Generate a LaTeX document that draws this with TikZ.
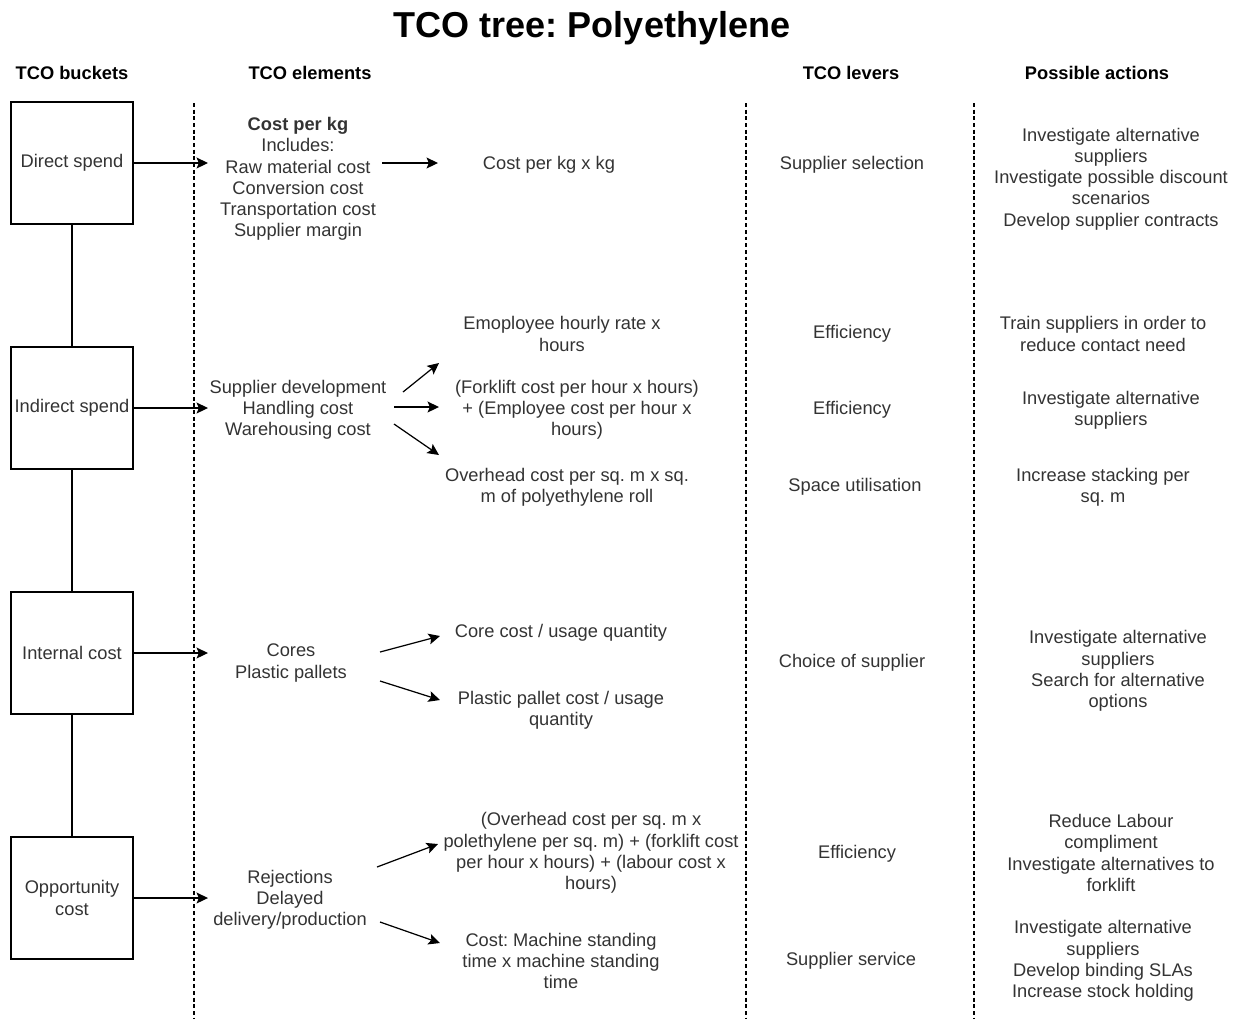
\documentclass[tikz,border=0pt]{standalone}
\usepackage{fontspec}
\setmainfont{Liberation Sans}
\usetikzlibrary{arrows.meta}
\frenchspacing

\newcommand{\txtfont}{\fontsize{10.4}{12.1}\selectfont}
\newcommand{\hdrfont}{\fontsize{10.4}{12.1}\selectfont\bfseries}

\begin{document}
\begin{tikzpicture}[x=0.02cm,y=-0.02cm,>={Stealth[length=6.5pt,width=6.2pt,inset=1.3pt]},
  bucket/.style={draw, line width=0.7pt, minimum width=2.44cm, minimum height=2.44cm, inner sep=0pt, align=center, font=\txtfont, text=black!80},
  txt/.style={align=center, inner sep=0pt, font=\txtfont, text=black!80, yshift=-1.1pt},
  head/.style={inner sep=0pt, font=\hdrfont, yshift=-0.6pt},
  arr/.style={->, line width=0.7pt},
  sep/.style={line width=0.6pt, dash pattern=on 2.2pt off 1.6pt}]
  \useasboundingbox (0,0) rectangle (1243,1019);

  \node[font=\fontsize{20.5}{24}\selectfont\bfseries, yshift=-2.2pt] (title) at (592,24) {TCO tree: Polyethylene};
  \node[head] (hBuckets)  at (72,72)   {TCO buckets};
  \node[head] (hElements) at (310,72)  {TCO elements};
  \node[head] (hLevers)   at (851,72)  {TCO levers};
  \node[head] (hActions)  at (1097,72) {Possible actions};

  \draw[sep] (194,103) -- (194,1019);
  \draw[sep] (746,103) -- (746,1019);
  \draw[sep] (974,103) -- (974,1019);

  \node[bucket] (direct)   at (72,163) {Direct spend};
  \node[bucket] (indirect) at (72,408) {Indirect spend};
  \node[bucket] (internal) at (72,653) {Internal cost};
  \node[bucket] (opport)   at (72,898) {Opportunity\\cost};
  \draw[line width=0.7pt] (direct) -- (indirect);
  \draw[line width=0.7pt] (indirect) -- (internal);
  \draw[line width=0.7pt] (internal) -- (opport);

  \node[txt] (elDirect)   at (298,177) {\textbf{Cost per kg}\\Includes:\\Raw material cost\\Conversion cost\\Transportation cost\\Supplier margin};
  \node[txt] (elIndirect) at (298,408) {Supplier development\\Handling cost\\Warehousing cost};
  \node[txt] (elInternal) at (291,661) {Cores\\Plastic pallets};
  \node[txt] (elOpport)   at (290,898) {Rejections\\Delayed\\delivery/production};

  \coordinate (inDirect)   at (208,163);
  \coordinate (inIndirect) at (208,408);
  \coordinate (inInternal) at (208,653);
  \coordinate (inOpport)   at (208,898);
  \draw[arr] (direct) -- (inDirect);
  \draw[arr] (indirect) -- (inIndirect);
  \draw[arr] (internal) -- (inInternal);
  \draw[arr] (opport) -- (inOpport);

  \node[txt] (rKg)     at (549,163) {Cost per kg x kg};
  \node[txt] (rEmp)    at (562,332) {Emoployee hourly rate x\\hours};
  \node[txt] (rFork)   at (577,408) {(Forklift cost per hour x hours)\\+ (Employee cost per hour x\\hours)};
  \node[txt] (rSqm)    at (567,485) {Overhead cost per sq. m x sq.\\m of polyethylene roll};
  \node[txt] (rCore)   at (561,631) {Core cost / usage quantity};
  \node[txt] (rPallet) at (561,708) {Plastic pallet cost / usage\\quantity};
  \node[txt] (rOver)   at (591,851) {(Overhead cost per sq. m x\\polethylene per sq. m) + (forklift cost\\per hour x hours) + (labour cost x\\hours)};
  \node[txt] (rMach)   at (561,959) {Cost: Machine standing\\time x machine standing\\time};

  \coordinate (kgA) at (382,163);   \coordinate (kgB) at (438,163);
  \coordinate (empA) at (403,392);  \coordinate (empB) at (439,363);
  \coordinate (forkA) at (394,407); \coordinate (forkB) at (439,407);
  \coordinate (sqmA) at (394,424);  \coordinate (sqmB) at (439,455);
  \coordinate (coreA) at (380,652); \coordinate (coreB) at (440,636);
  \coordinate (palA) at (380,681);  \coordinate (palB) at (440,700);
  \coordinate (overA) at (377,867); \coordinate (overB) at (438,844);
  \coordinate (machA) at (380,922); \coordinate (machB) at (440,943);
  \draw[arr] (kgA) -- (kgB);
  \draw[arr] (empA) -- (empB);
  \draw[arr] (forkA) -- (forkB);
  \draw[arr] (sqmA) -- (sqmB);
  \draw[arr] (coreA) -- (coreB);
  \draw[arr] (palA) -- (palB);
  \draw[arr] (overA) -- (overB);
  \draw[arr] (machA) -- (machB);

  \node[txt] (lvSelect)  at (852,163) {Supplier selection};
  \node[txt] (lvEff1)    at (852,332) {Efficiency};
  \node[txt] (lvEff2)    at (852,408) {Efficiency};
  \node[txt] (lvSpace)   at (855,485) {Space utilisation};
  \node[txt] (lvChoice)  at (852,661) {Choice of supplier};
  \node[txt] (lvEff3)    at (857,852) {Efficiency};
  \node[txt] (lvService) at (851,959) {Supplier service};

  \node[txt] (acDirect)  at (1111,177) {Investigate alternative\\suppliers\\Investigate possible discount\\scenarios\\Develop supplier contracts};
  \node[txt] (acTrain)   at (1103,332) {Train suppliers in order to\\reduce contact need};
  \node[txt] (acInvest)  at (1111,408) {Investigate alternative\\suppliers};
  \node[txt] (acStack)   at (1103,485) {Increase stacking per\\sq. m};
  \node[txt] (acChoice)  at (1118,669) {Investigate alternative\\suppliers\\Search for alternative\\options};
  \node[txt] (acLabour)  at (1111,851) {Reduce Labour\\compliment\\Investigate alternatives to\\forklift};
  \node[txt] (acService) at (1103,959) {Investigate alternative\\suppliers\\Develop binding SLAs\\Increase stock holding};
\end{tikzpicture}
\end{document}
